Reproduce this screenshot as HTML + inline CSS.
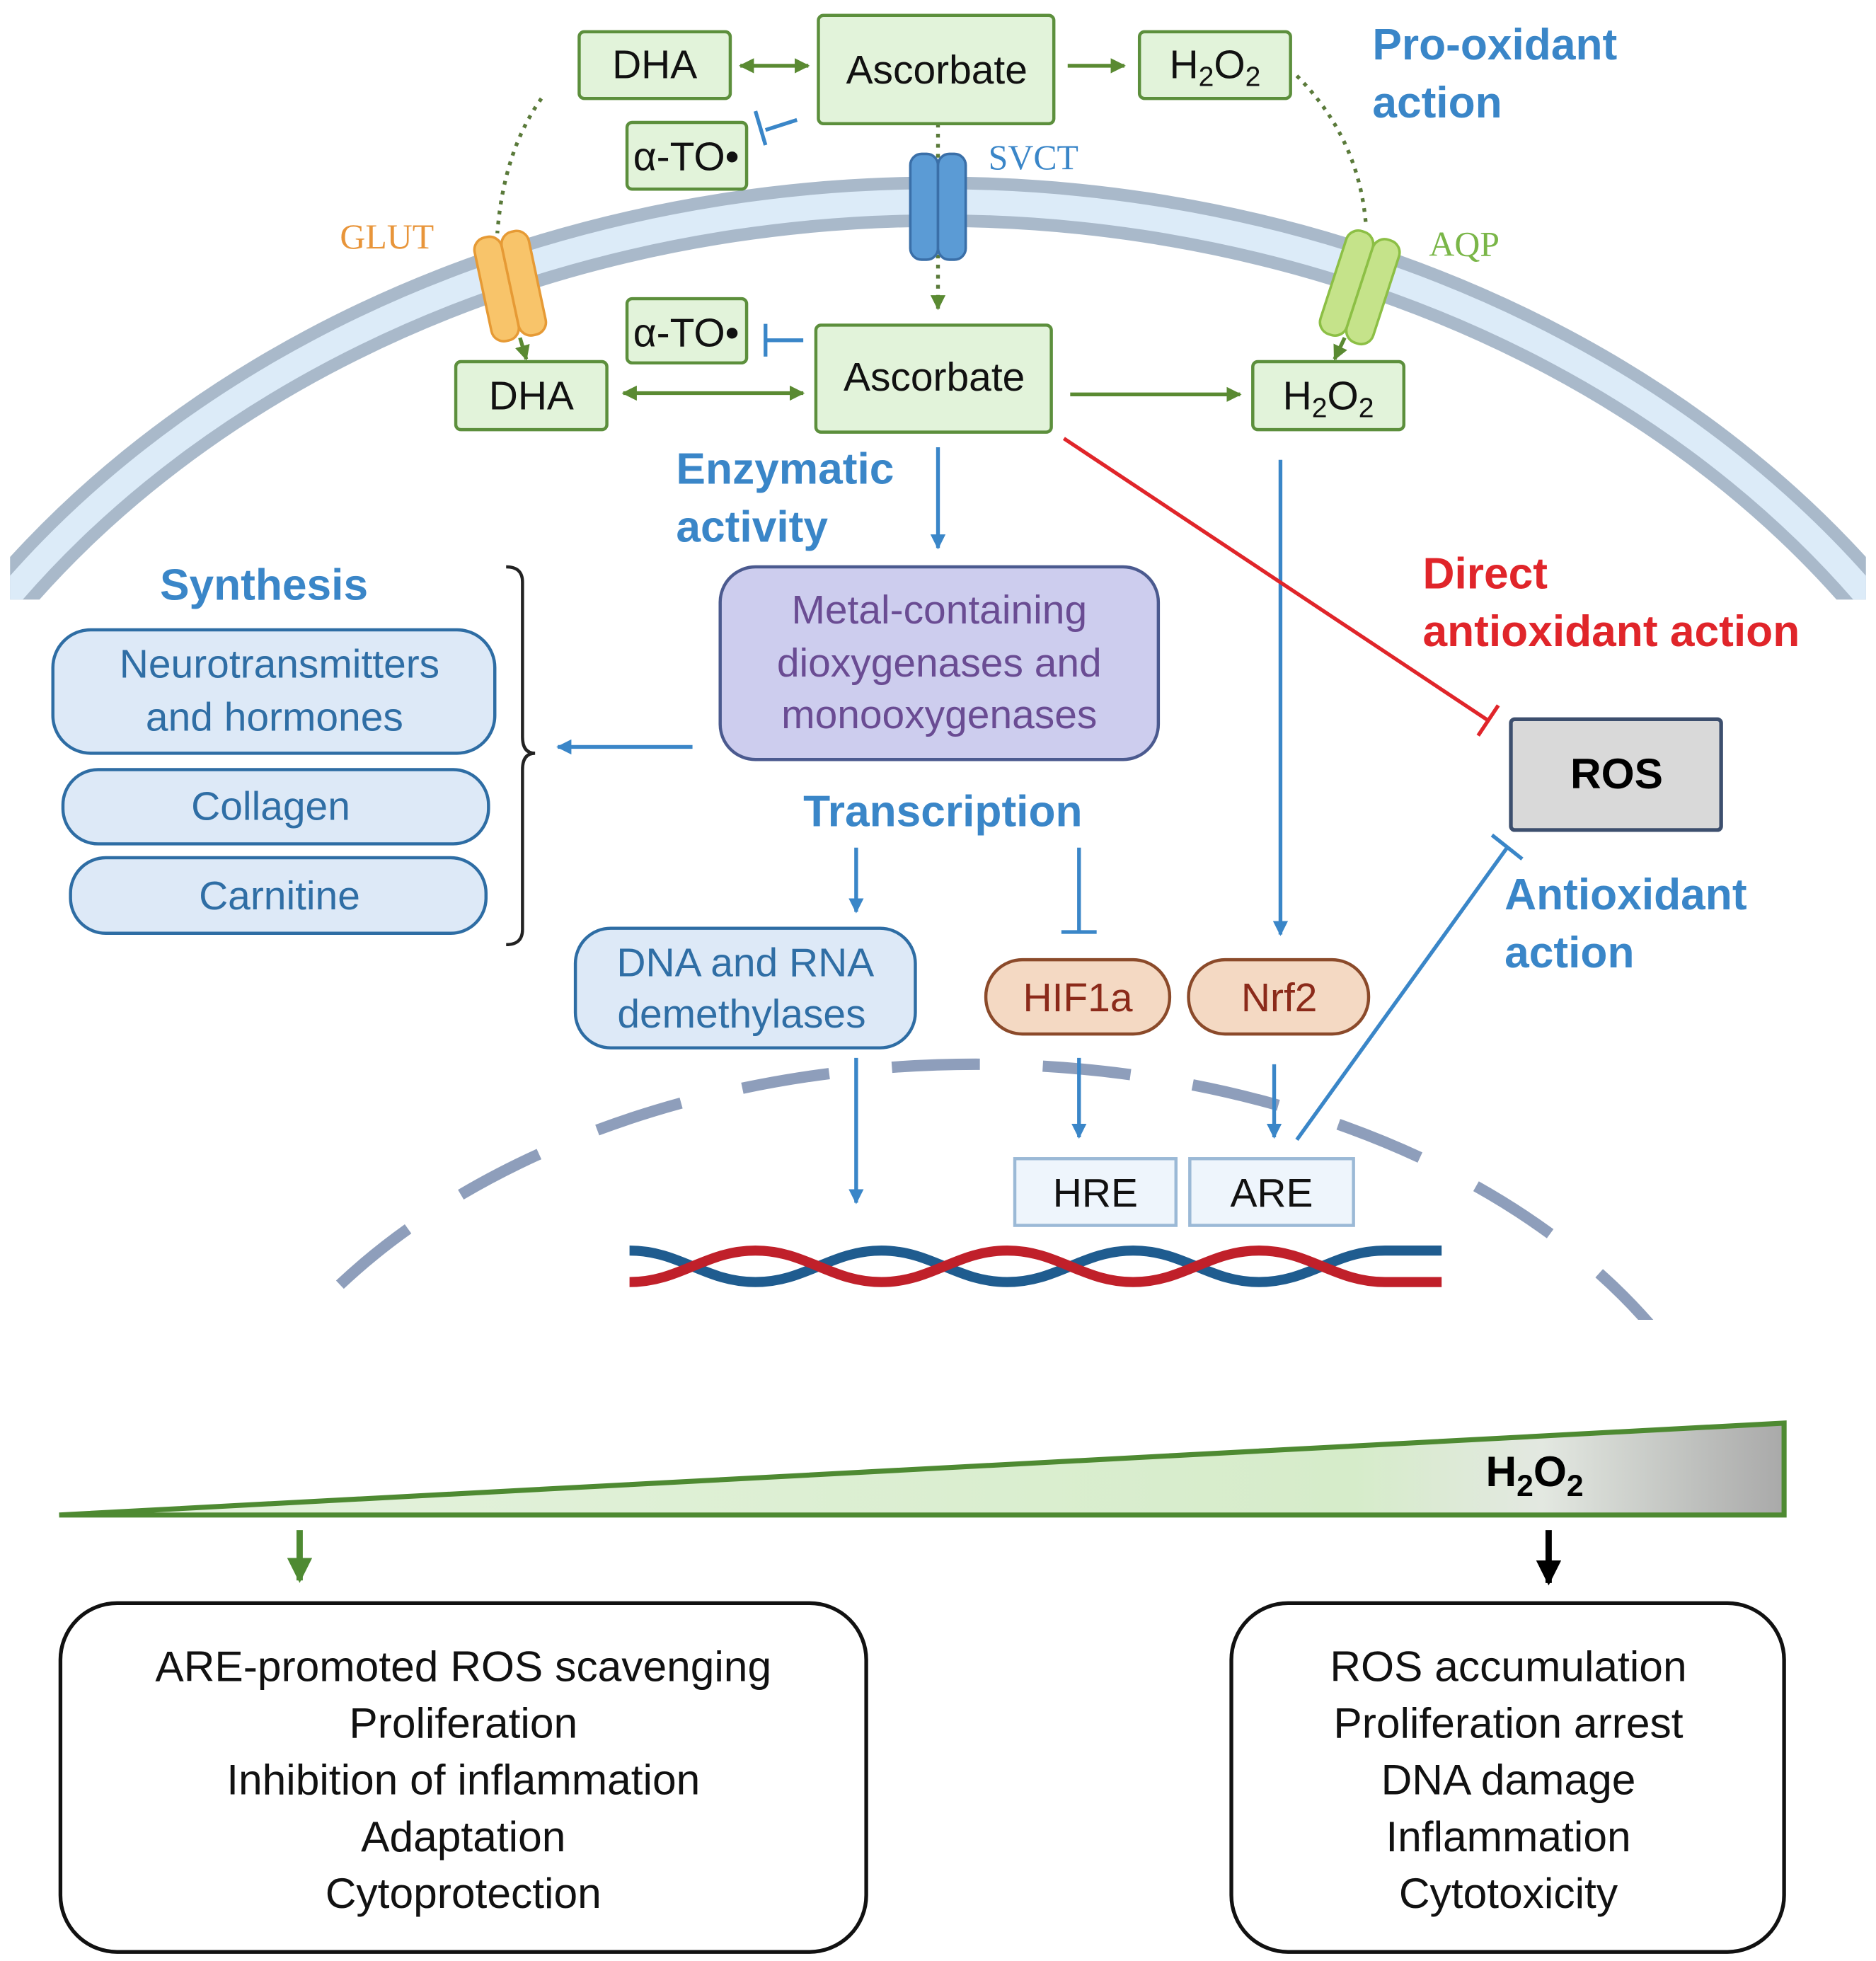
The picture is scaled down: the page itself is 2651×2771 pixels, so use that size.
<!DOCTYPE html>
<html><head><meta charset="utf-8"><style>html,body{margin:0;padding:0;background:#fff;overflow:hidden;width:2651px;height:2771px}svg{display:block}</style></head>
<body>
<svg width="2651" height="2771" viewBox="0 0 1490 1557" xmlns="http://www.w3.org/2000/svg" font-family="Liberation Sans, sans-serif">
<defs>
<clipPath id="mc"><rect x="8" y="0" width="1474" height="476"/></clipPath>
<clipPath id="nc"><rect x="0" y="0" width="1490" height="1048"/></clipPath>
<linearGradient id="tg" x1="0" x2="1" y1="0" y2="0">
<stop offset="0" stop-color="#e6f3df"/><stop offset="0.75" stop-color="#d6ecca"/><stop offset="0.86" stop-color="#e3e8e1"/><stop offset="1" stop-color="#a9a9a9"/></linearGradient>
<marker id="ag" viewBox="0 0 10 10" refX="9" refY="5" markerWidth="4" markerHeight="4" orient="auto-start-reverse"><path d="M0,0L10,5L0,10z" fill="#5a8a32"/></marker>
<marker id="ab" viewBox="0 0 10 10" refX="9" refY="5" markerWidth="4" markerHeight="4" orient="auto"><path d="M0,0L10,5L0,10z" fill="#3a86c8"/></marker>
<marker id="ak" viewBox="0 0 10 10" refX="9" refY="5" markerWidth="4" markerHeight="4" orient="auto"><path d="M0,0L10,5L0,10z" fill="#000"/></marker>
<marker id="agg" viewBox="0 0 10 10" refX="9" refY="5" markerWidth="4" markerHeight="4" orient="auto"><path d="M0,0L10,5L0,10z" fill="#4e8a32"/></marker>
</defs>
<g clip-path="url(#mc)" fill="none">
<ellipse cx="745" cy="893" rx="900" ry="733" stroke="#a9b9ca" stroke-width="40"/>
<ellipse cx="745" cy="893" rx="900" ry="733" stroke="#dcebf8" stroke-width="20"/>
</g>
<ellipse cx="775" cy="1262" rx="620" ry="417" fill="none" stroke="#8e9ebb" stroke-width="9" stroke-dasharray="70 50" clip-path="url(#nc)"/>
<g fill="none" stroke="#5a7a3a" stroke-width="3" stroke-dasharray="3 5">
<path d="M430,78 Q400,120 395,185"/>
<path d="M1030,60 Q1080,110 1085,180"/>
<path d="M745,98 L745,245" marker-end="url(#ag)"/>
</g>
<g transform="rotate(-12 405 226)"><rect x="383" y="185" width="22" height="84" rx="10" fill="#f8c46a" stroke="#e69a35" stroke-width="2"/><rect x="405" y="185" width="22" height="84" rx="10" fill="#f8c46a" stroke="#e69a35" stroke-width="2"/></g>
<rect x="723" y="122" width="22" height="84" rx="9" fill="#5b9bd5" stroke="#3a6fa8" stroke-width="2"/><rect x="745" y="122" width="22" height="84" rx="9" fill="#5b9bd5" stroke="#3a6fa8" stroke-width="2"/>
<g transform="rotate(18 1080 228)"><rect x="1058" y="185" width="22" height="86" rx="10" fill="#c5e38a" stroke="#8cbf45" stroke-width="2"/><rect x="1080" y="185" width="22" height="86" rx="10" fill="#c5e38a" stroke="#8cbf45" stroke-width="2"/></g>
<g fill="#e2f3da" stroke="#5c8f3c" stroke-width="2.5">
<rect x="460" y="25" width="120" height="53" rx="4"/>
<rect x="650" y="12" width="187" height="86" rx="4"/>
<rect x="905" y="25" width="120" height="53" rx="4"/>
<rect x="498" y="97" width="95" height="53" rx="4"/>
<rect x="498" y="237" width="95" height="51" rx="4"/>
<rect x="362" y="287" width="120" height="54" rx="4"/>
<rect x="648" y="258" width="187" height="85" rx="4"/>
<rect x="995" y="287" width="120" height="54" rx="4"/>
</g>
<g font-size="32" fill="#111" text-anchor="middle">
<text x="520" y="62">DHA</text>
<text x="744" y="66">Ascorbate</text>
<text x="965" y="62">H<tspan font-size="22" dy="6">2</tspan><tspan dy="-6">O</tspan><tspan font-size="22" dy="6">2</tspan></text>
<text x="545" y="135">α-TO•</text>
<text x="545" y="275">α-TO•</text>
<text x="422" y="325">DHA</text>
<text x="742" y="310">Ascorbate</text>
<text x="1055" y="325">H<tspan font-size="22" dy="6">2</tspan><tspan dy="-6">O</tspan><tspan font-size="22" dy="6">2</tspan></text>
</g>
<g stroke="#5a8a32" stroke-width="3" fill="none">
<line x1="588" y1="52" x2="642" y2="52" marker-start="url(#ag)" marker-end="url(#ag)"/>
<line x1="848" y1="52" x2="893" y2="52" marker-end="url(#ag)"/>
<line x1="495" y1="312" x2="638" y2="312" marker-start="url(#ag)" marker-end="url(#ag)"/>
<line x1="850" y1="313" x2="985" y2="313" marker-end="url(#ag)"/>
<line x1="413" y1="268" x2="418" y2="285" marker-end="url(#ag)"/>
<line x1="1068" y1="268" x2="1060" y2="285" marker-end="url(#ag)"/>
</g>
<g stroke="#3a86c8" stroke-width="3" fill="none">
<line x1="633" y1="95" x2="608" y2="103"/><line x1="600" y1="88" x2="608" y2="115"/>
<line x1="638" y1="270" x2="608" y2="270"/><line x1="608" y1="257" x2="608" y2="283"/>
</g>
<g font-weight="bold" fill="#3a86c8" font-size="35">
<text x="1090" y="47">Pro-oxidant</text><text x="1090" y="93">action</text>
<text x="537" y="384">Enzymatic</text><text x="537" y="430">activity</text>
<text x="127" y="476">Synthesis</text>
<text x="638" y="656">Transcription</text>
<text x="1195" y="722">Antioxidant</text><text x="1195" y="768">action</text>
</g>
<g font-weight="bold" fill="#e0252a" font-size="35"><text x="1130" y="467">Direct</text><text x="1130" y="513">antioxidant action</text></g>
<g font-family="Liberation Serif, serif" font-size="28">
<text x="785" y="134" fill="#3a86c8">SVCT</text>
<text x="270" y="197" fill="#e8953a">GLUT</text>
<text x="1135" y="203" fill="#7ab648">AQP</text>
</g>
<rect x="572" y="450" width="348" height="153" rx="28" fill="#cdcdee" stroke="#4b5a8f" stroke-width="2.5"/>
<g font-size="32" fill="#6a4c93" text-anchor="middle"><text x="746" y="495">Metal-containing</text><text x="746" y="537">dioxygenases and</text><text x="746" y="578">monooxygenases</text></g>
<g fill="#dde9f7" stroke="#2e6da4" stroke-width="2.5">
<rect x="42" y="500" width="351" height="98" rx="30"/>
<rect x="50" y="611" width="338" height="59" rx="28"/>
<rect x="56" y="681" width="330" height="60" rx="28"/>
<rect x="457" y="737" width="270" height="95" rx="28"/>
</g>
<g font-size="32" fill="#2f6ea5" text-anchor="middle">
<text x="222" y="538">Neurotransmitters</text><text x="218" y="580">and hormones</text>
<text x="215" y="651">Collagen</text><text x="222" y="722">Carnitine</text>
<text x="592" y="775">DNA and RNA</text><text x="589" y="816">demethylases</text>
</g>
<path d="M402,450 Q415,450 415,462 L415,585 Q415,598 425,598 Q415,598 415,611 L415,738 Q415,750 402,750" fill="none" stroke="#222" stroke-width="2.5"/>
<g stroke="#3a86c8" stroke-width="3" fill="none">
<line x1="745" y1="355" x2="745" y2="435" marker-end="url(#ab)"/>
<line x1="550" y1="593" x2="443" y2="593" marker-end="url(#ab)"/>
<line x1="680" y1="673" x2="680" y2="724" marker-end="url(#ab)"/>
<line x1="857" y1="673" x2="857" y2="740"/><line x1="843" y1="740" x2="871" y2="740"/>
<line x1="1017" y1="365" x2="1017" y2="742" marker-end="url(#ab)"/>
<line x1="680" y1="840" x2="680" y2="955" marker-end="url(#ab)"/>
<line x1="857" y1="840" x2="857" y2="903" marker-end="url(#ab)"/>
<line x1="1012" y1="845" x2="1012" y2="903" marker-end="url(#ab)"/>
<line x1="1030" y1="905" x2="1197" y2="673"/><line x1="1185" y1="663" x2="1209" y2="682"/>
</g>
<g stroke="#e0252a" stroke-width="3"><line x1="845" y1="348" x2="1182" y2="572"/><line x1="1174" y1="584" x2="1190" y2="560"/></g>
<rect x="1200" y="571" width="167" height="88" rx="3" fill="#d9d9d9" stroke="#3d4f6e" stroke-width="3"/>
<text x="1284" y="626" text-anchor="middle" font-weight="bold" font-size="34">ROS</text>
<g fill="#f4d9c3" stroke="#8b4a2a" stroke-width="2.5"><rect x="783" y="762" width="146" height="59" rx="29"/><rect x="944" y="762" width="143" height="59" rx="29"/></g>
<g font-size="32" fill="#8b2a1a" text-anchor="middle"><text x="856" y="803">HIF1a</text><text x="1016" y="803">Nrf2</text></g>
<g fill="#eef5fc" stroke="#9bb9d6" stroke-width="2.5"><rect x="806" y="920" width="128" height="53"/><rect x="945" y="920" width="130" height="53"/></g>
<g font-size="32" fill="#111" text-anchor="middle"><text x="870" y="958">HRE</text><text x="1010" y="958">ARE</text></g>
<g fill="none" stroke-width="8">
<path d="M500,993 C540,993 560,1018 600,1018 S660,993 700,993 S760,1018 800,1018 S860,993 900,993 S960,1018 1000,1018 S1060,993 1100,993 L1145,993" stroke="#1f5c8f"/>
<path d="M500,1018 C540,1018 560,993 600,993 S660,1018 700,1018 S760,993 800,993 S860,1018 900,1018 S960,993 1000,993 S1060,1018 1100,1018 L1145,1018" stroke="#c0202a"/>
</g>
<polygon points="47,1203 1417,1130 1417,1203" fill="url(#tg)" stroke="#4e8a32" stroke-width="4"/>
<text x="1180" y="1180" font-weight="bold" font-size="34">H<tspan font-size="24" dy="8">2</tspan><tspan dy="-8">O</tspan><tspan font-size="24" dy="8">2</tspan></text>
<line x1="238" y1="1215" x2="238" y2="1255" stroke="#4e8a32" stroke-width="5" marker-end="url(#agg)"/>
<line x1="1230" y1="1215" x2="1230" y2="1257" stroke="#000" stroke-width="5" marker-end="url(#ak)"/>
<rect x="48" y="1273" width="640" height="277" rx="45" fill="#fff" stroke="#111" stroke-width="3"/>
<rect x="978" y="1273" width="439" height="277" rx="45" fill="#fff" stroke="#111" stroke-width="3"/>
<g font-size="34" fill="#111" text-anchor="middle">
<text x="368" y="1335">ARE-promoted ROS scavenging</text><text x="368" y="1380">Proliferation</text><text x="368" y="1425">Inhibition of inflammation</text><text x="368" y="1470">Adaptation</text><text x="368" y="1515">Cytoprotection</text>
<text x="1198" y="1335">ROS accumulation</text><text x="1198" y="1380">Proliferation arrest</text><text x="1198" y="1425">DNA damage</text><text x="1198" y="1470">Inflammation</text><text x="1198" y="1515">Cytotoxicity</text>
</g>
</svg>
</body></html>
